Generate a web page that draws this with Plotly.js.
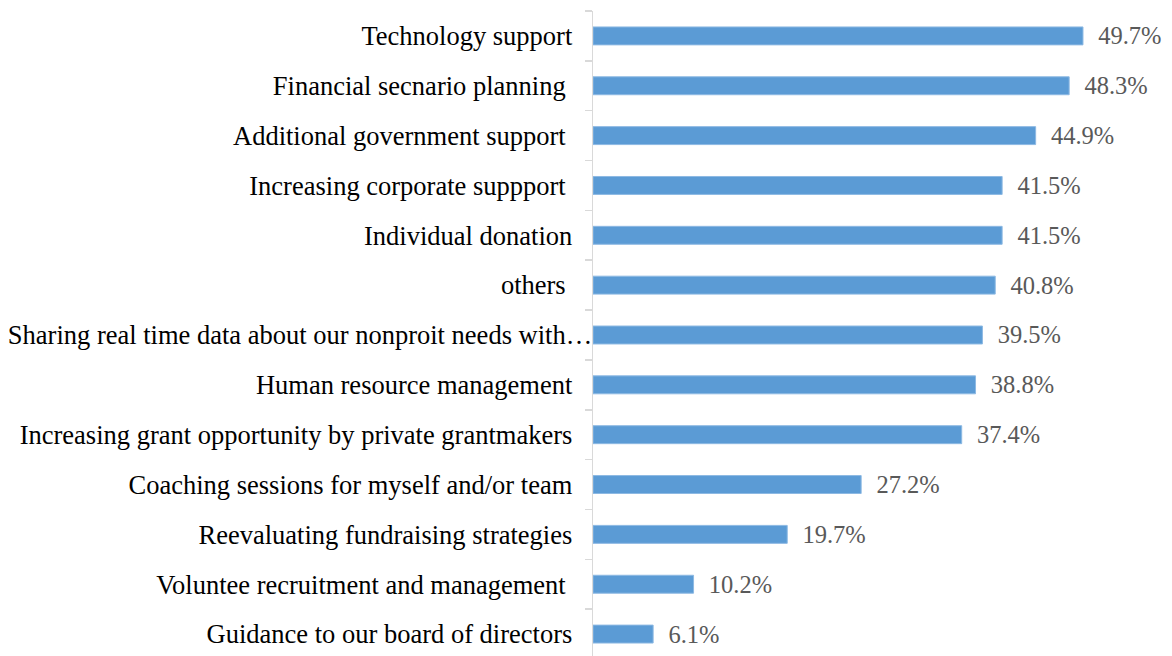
<!DOCTYPE html>
<html>
<head>
<meta charset="utf-8">
<script src="https://cdn.plot.ly/plotly-3.0.1.min.js"></script>
<style>html,body{margin:0;padding:0;background:#fff;}#chart{width:1172px;height:656px;}</style>
</head>
<body>
<div id="chart"></div>
<script>
const categories = [
  "Technology support",
  "Financial secnario planning ",
  "Additional government support ",
  "Increasing corporate suppport ",
  "Individual donation",
  "others ",
  "Sharing real time data about our nonproit needs with…",
  "Human resource management",
  "Increasing grant opportunity by private grantmakers",
  "Coaching sessions for myself and/or team",
  "Reevaluating fundraising strategies",
  "Voluntee recruitment and management ",
  "Guidance to our board of directors"
];
const values = [49.7, 48.3, 44.9, 41.5, 41.5, 40.8, 39.5, 38.8, 37.4, 27.2, 19.7, 10.2, 6.1];

const valueLabels = values.map(v => "\u00a0\u00a0" + v.toFixed(1) + "%");
// tick labels: trailing spaces kept visible as non-breaking spaces, plus right padding
// (the truncated label runs up to the axis, as in the original)
const tickLabels = categories.map(c => {
  const t = c.replace(/ $/, "\u00a0");
  return t.endsWith("…") ? t : t + "\u00a0\u00a0\u00a0";
});

const trace = {
  type: "bar",
  orientation: "h",
  y: categories,
  x: values,
  text: valueLabels,
  textposition: "outside",
  constraintext: "none",
  cliponaxis: false,
  textfont: {family: "Liberation Serif, Times New Roman, serif", size: 24.5, color: "#595959"},
  marker: {color: "#5B9BD5", line: {color: "#8DB9E3", width: 1}},
  hoverinfo: "skip"
};

const layout = {
  width: 1172, height: 656,
  margin: {l: 593, r: 0, t: 11, b: 0, pad: 0},
  paper_bgcolor: "#ffffff", plot_bgcolor: "#ffffff",
  showlegend: false,
  bargap: 0.64,
  font: {family: "Liberation Serif, Times New Roman, serif", size: 22, color: "#000000"},
  xaxis: {range: [0, 58.73], visible: false, showgrid: false, zeroline: false},
  yaxis: {
    type: "category",
    range: [12.44, -0.5],
    tickmode: "array",
    tickvals: categories,
    ticktext: tickLabels,
    showline: true, linecolor: "#D9D9D9", linewidth: 1.5,
    ticks: "outside", tickson: "boundaries", ticklen: 7, tickcolor: "#D9D9D9", tickwidth: 1.5,
    ticklabelstandoff: -6,
    tickfont: {family: "Liberation Serif, Times New Roman, serif", size: 26.5, color: "#000000"},
    showgrid: false, zeroline: false
  }
};

Plotly.newPlot("chart", [trace], layout, {displayModeBar: false, staticPlot: true});
</script>
</body>
</html>
